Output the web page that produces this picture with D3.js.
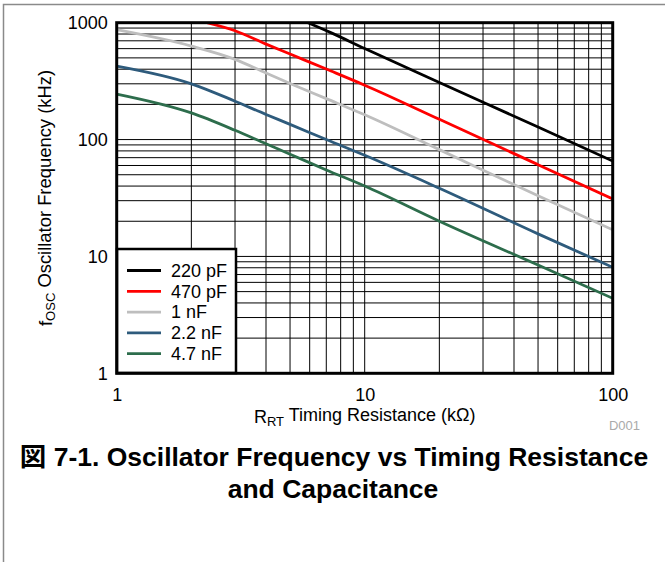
<!DOCTYPE html>
<html>
<head>
<meta charset="utf-8">
<script src="https://cdn.jsdelivr.net/npm/d3@7"></script>
<style>
    html, body { margin: 0; padding: 0; background: #fff; }
    svg { display: block; font-family: "Liberation Sans", Arial, Helvetica, "Noto Sans CJK JP", sans-serif; }
</style>
</head>
<body>
<div id="chart"></div>
<script>
/* ============================================================
   Oscillator frequency vs timing resistance (log-log)
   ============================================================ */

// R_RT (kOhm) and f_OSC (kHz), one pair of arrays per curve
const rt220 = [5.9, 7.26, 10, 20, 50, 100];
const f220  = [1000, 826, 601, 308, 128, 65.5];

const rt470 = [2.31, 3, 4, 5, 7, 10, 20, 50, 100];
const f470  = [1000, 853, 656, 539, 401, 292, 149, 61, 31];

const rt1n = [1, 2, 3, 4, 5, 7, 10, 20, 50, 100];
const f1n  = [871, 631, 486, 371, 302, 224, 163, 82, 33, 16.9];

const rt2n2 = [1, 2, 3, 4, 5, 7, 10, 20, 50, 100];
const f2n2  = [425, 300, 213, 164, 135, 100, 73.3, 38.3, 15.6, 8.07];

const rt4n7 = [1, 2, 3, 4, 5, 7, 10, 20, 50, 100];
const f4n7  = [245, 169, 120, 92, 75, 55, 40, 20, 8.44, 4.38];

const seriesLabels = ['220 pF', '470 pF', '1 nF', '2.2 nF', '4.7 nF'];
const seriesColors = ['#000000', '#ff0000', '#bebebe', '#2e5b7c', '#2d6d4c'];

const xTickValues = [1, 10, 100];
const yTickValues = [1, 10, 100, 1000];

const COLORS = { grid: '#000', frame: '#000', outer: '#8a8a8a', code: '#aaaaaa' };

function renderChart(container) {
    const W = 665, H = 562;
    const plot = { left: 116.7, right: 612.7, top: 22.7, bottom: 373.3 };

    const svg = d3.select(container)
        .append('svg')
        .attr('width', W)
        .attr('height', H);

    // outer page frame (top + left edges only are visible)
    svg.append('path')
        .attr('d', `M3.5,562 L3.5,4.5 L665,4.5`)
        .attr('fill', 'none')
        .attr('stroke', COLORS.outer)
        .attr('stroke-width', 1.5);

    const x = d3.scaleLog().domain([1, 100]).range([plot.left, plot.right]);
    const y = d3.scaleLog().domain([1, 1000]).range([plot.bottom, plot.top]);

    // Grid lines (every decade step)
    const grid = svg.append('g').attr('stroke', COLORS.grid).attr('stroke-width', 1);
    grid.selectAll('.vx')
        .data(x.ticks())
        .enter()
        .append('line')
        .attr('x1', d => x(d)).attr('x2', d => x(d))
        .attr('y1', plot.top).attr('y2', plot.bottom);
    grid.selectAll('.hy')
        .data(y.ticks())
        .enter()
        .append('line')
        .attr('y1', d => y(d)).attr('y2', d => y(d))
        .attr('x1', plot.left).attr('x2', plot.right);

    // Curves
    svg.append('clipPath').attr('id', 'plotClip')
        .append('rect')
        .attr('x', plot.left).attr('y', plot.top)
        .attr('width', plot.right - plot.left)
        .attr('height', plot.bottom - plot.top);

    const series = [
        d3.zip(rt220, f220),
        d3.zip(rt470, f470),
        d3.zip(rt1n, f1n),
        d3.zip(rt2n2, f2n2),
        d3.zip(rt4n7, f4n7)
    ];

    const line = d3.line()
        .x(d => x(d[0]))
        .y(d => y(d[1]))
        .curve(d3.curveMonotoneX);

    svg.append('g')
        .attr('clip-path', 'url(#plotClip)')
        .selectAll('path')
        .data(series)
        .enter()
        .append('path')
        .attr('d', line)
        .attr('fill', 'none')
        .attr('stroke', (d, i) => seriesColors[i])
        .attr('stroke-width', 2.8)
        .attr('stroke-linejoin', 'round');

    // Legend box (bottom-left, sits over the grid)
    const lg = { x: 117, y: 249, w: 119, h: 124, row: 20.8, first: 270.5 };
    svg.append('rect')
        .attr('x', lg.x).attr('y', lg.y)
        .attr('width', lg.w).attr('height', lg.h)
        .attr('fill', '#fff')
        .attr('stroke', '#000')
        .attr('stroke-width', 2.5);

    const items = svg.append('g')
        .selectAll('g')
        .data(seriesLabels)
        .enter()
        .append('g')
        .attr('transform', (d, i) => `translate(0,${lg.first + i * lg.row})`);
    items.append('line')
        .attr('x1', 127).attr('x2', 161)
        .attr('stroke', (d, i) => seriesColors[i])
        .attr('stroke-width', 2.8);
    items.append('text')
        .attr('x', 171)
        .attr('dy', '0.35em')
        .style('font-size', '18px')
        .attr('fill', '#000')
        .text(d => d);

    // Plot frame
    svg.append('rect')
        .attr('x', plot.left).attr('y', plot.top)
        .attr('width', plot.right - plot.left)
        .attr('height', plot.bottom - plot.top)
        .attr('fill', 'none')
        .attr('stroke', COLORS.frame)
        .attr('stroke-width', 3);

    // Axes (labels only)
    const xAxis = svg.append('g')
        .attr('transform', `translate(0,${plot.bottom})`)
        .call(d3.axisBottom(x).tickValues(xTickValues).tickFormat(d3.format('d')).tickSize(0).tickPadding(15));
    const yAxis = svg.append('g')
        .attr('transform', `translate(${plot.left},0)`)
        .call(d3.axisLeft(y).tickValues(yTickValues).tickFormat(d3.format('d')).tickSize(0).tickPadding(9));
    [xAxis, yAxis].forEach(a => {
        a.select('.domain').remove();
        a.attr('font-family', null).attr('font-size', null);
        a.selectAll('text')
            .attr('fill', '#000')
            .style('font-size', '18px');
    });

    // Axis titles
    const xt = svg.append('text')
        .attr('x', (plot.left + plot.right) / 2)
        .attr('y', 422.5)
        .attr('text-anchor', 'middle')
        .style('font-size', '18px');
    xt.append('tspan').text('R');
    xt.append('tspan').attr('dy', '0.25em').style('font-size', '13px').text('RT');
    xt.append('tspan').attr('dy', '-0.25em').text(' Timing Resistance (k\u03A9)');

    const yt = svg.append('text')
        .attr('transform', 'translate(52,198) rotate(-90)')
        .attr('text-anchor', 'middle')
        .style('font-size', '18.4px');
    yt.append('tspan').text('f');
    yt.append('tspan').attr('dy', '0.25em').style('font-size', '13px').text('OSC');
    yt.append('tspan').attr('dy', '-0.25em').text(' Oscillator Frequency (kHz)');

    // Figure code
    svg.append('text')
        .attr('x', 640).attr('y', 430)
        .attr('text-anchor', 'end')
        .attr('fill', COLORS.code)
        .style('font-size', '13px')
        .text('D001');

    // Caption
    const cap = svg.append('text')
        .attr('text-anchor', 'middle')
        .style('font-size', '26.5px')
        .style('font-weight', 'bold');
    cap.append('tspan').attr('x', 334).attr('y', 465.5)
        .text('\u56F3 7-1. Oscillator Frequency vs Timing Resistance');
    cap.append('tspan').attr('x', 333).attr('y', 498)
        .text('and Capacitance');
}

renderChart(document.getElementById('chart'));
</script>
</body>
</html>
